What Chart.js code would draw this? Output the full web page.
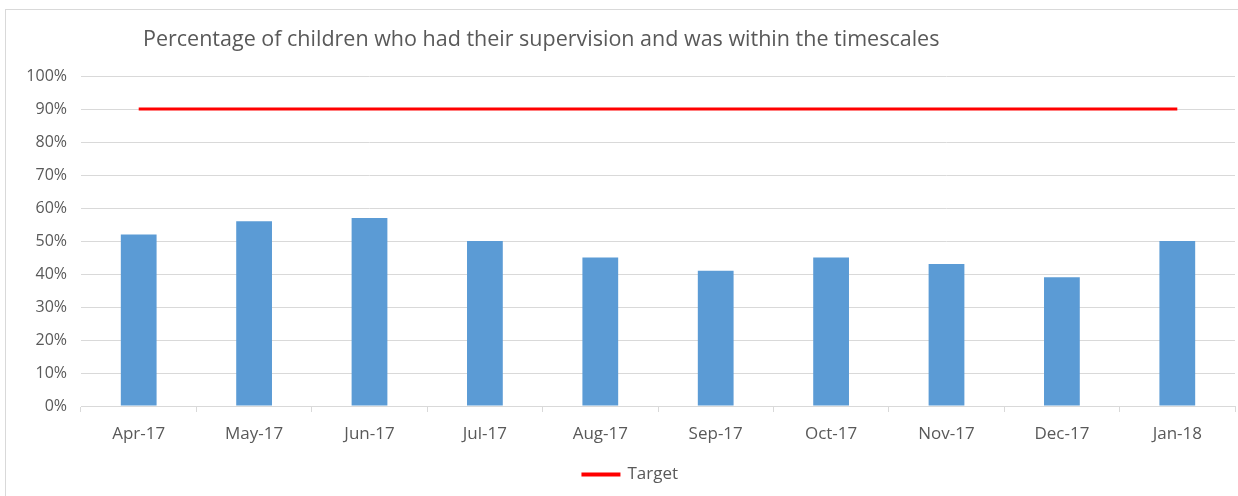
<!DOCTYPE html>
<html>
<head>
<meta charset="utf-8">
<script src="https://cdn.jsdelivr.net/npm/chart.js@4/dist/chart.umd.min.js"></script>
<style>
  html, body { margin: 0; padding: 0; background: #ffffff; }
  #wrap { width: 1238px; height: 496px; position: relative; }
</style>
</head>
<body>
<div id="wrap"><canvas id="c" width="1238" height="496"></canvas></div>
<script>
const categories = ["Apr-17","May-17","Jun-17","Jul-17","Aug-17","Sep-17","Oct-17","Nov-17","Dec-17","Jan-18"];
const percentages = [52, 56, 57, 50, 45, 41, 45, 43, 39, 50];
const target = [90, 90, 90, 90, 90, 90, 90, 90, 90, 90];
const titleText = "Percentage of children who had their supervision and was within the timescales";

const FONT = "'Open Sans', 'Liberation Sans', sans-serif";
const TXT = "#595959";
const GRID = "#D9D9D9";

const frameAndTitle = {
  id: 'frameAndTitle',
  beforeDraw(chart) {
    const ctx = chart.ctx;
    ctx.save();
    ctx.strokeStyle = GRID;
    ctx.lineWidth = 1;
    ctx.strokeRect(5.5, 9.5, 1240, 500);
    ctx.restore();
  },
  afterDraw(chart) {
    const ctx = chart.ctx;
    ctx.save();
    ctx.fillStyle = TXT;
    ctx.font = "21.5px " + FONT;
    ctx.textBaseline = "middle";
    ctx.textAlign = "left";
    ctx.fillText(titleText, 143, 40);
    ctx.restore();
  }
};

new Chart(document.getElementById('c'), {
  data: {
    labels: categories,
    datasets: [
      {
        type: 'line',
        label: 'Target',
        data: target,
        borderColor: '#FF0000',
        backgroundColor: '#FF0000',
        borderWidth: 3,
        pointRadius: 0,
        pointHoverRadius: 0,
        fill: false,
        order: 0
      },
      {
        type: 'bar',
        label: 'Percentage',
        data: percentages,
        backgroundColor: '#5B9BD5',
        borderColor: '#5B9BD5',
        borderWidth: 0,
        categoryPercentage: 1.0,
        barPercentage: 0.31,
        order: 1
      }
    ]
  },
  options: {
    responsive: false,
    animation: false,
    layout: { padding: { top: 76, left: 26, right: 3, bottom: 3 } },
    plugins: {
      title: { display: false },
      tooltip: { enabled: false },
      legend: {
        position: 'bottom',
        labels: {
          filter: (item) => item.text === 'Target',
          boxWidth: 36,
          boxHeight: 1,
          color: TXT,
          font: { family: FONT, size: 17 },
          padding: 10
        }
      }
    },
    scales: {
      x: {
        type: 'category',
        offset: true,
        grid: {
          display: true,
          offset: true,
          drawOnChartArea: false,
          drawTicks: true,
          tickLength: 6,
          color: GRID
        },
        border: { display: true, color: GRID },
        ticks: {
          color: TXT,
          font: { family: FONT, size: 17 },
          padding: 12,
          maxRotation: 0
        },
        afterFit(scale) { scale.height = 50; }
      },
      y: {
        min: 0,
        max: 100,
        ticks: {
          stepSize: 10,
          color: TXT,
          font: { family: FONT, size: 16 },
          padding: 14,
          callback: (v) => v + '%'
        },
        grid: {
          color: GRID,
          drawTicks: false
        },
        border: { display: false },
        afterFit(scale) { scale.width = 55; }
      }
    }
  },
  plugins: [frameAndTitle]
});
</script>
</body>
</html>
